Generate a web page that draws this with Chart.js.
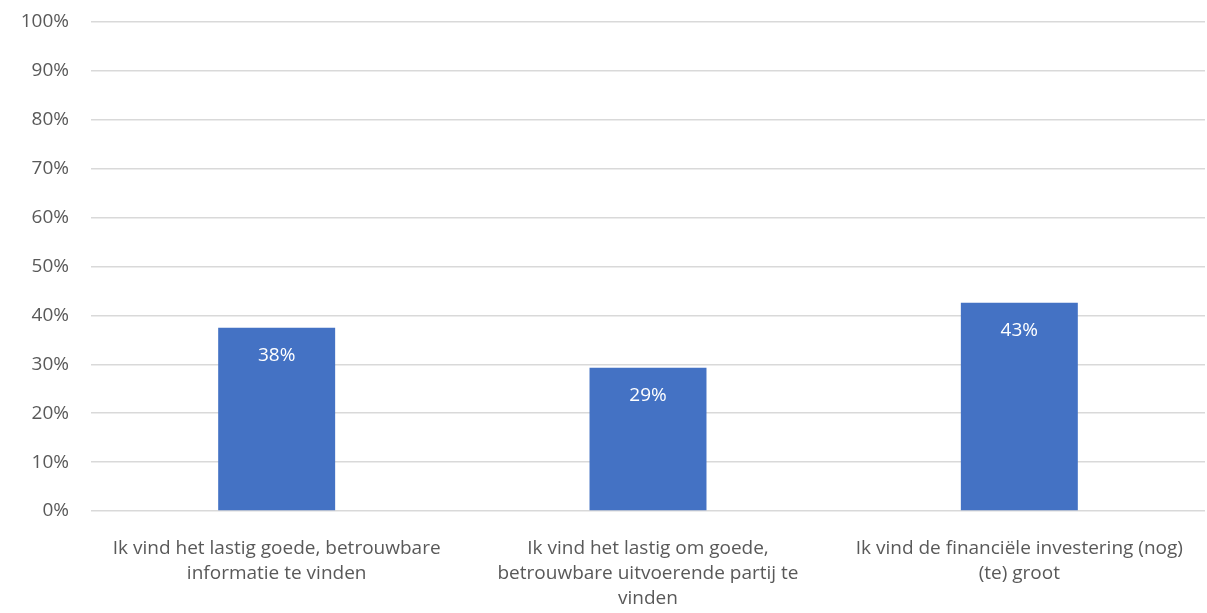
<!DOCTYPE html>
<html>
<head>
<meta charset="utf-8">
<script src="https://cdn.jsdelivr.net/npm/chart.js"></script>
<style>
  html, body { margin: 0; padding: 0; background: #fff; }
  #wrap { width: 1207px; height: 613px; }
</style>
</head>
<body>
<div id="wrap"><canvas id="myChart" width="1207" height="613"></canvas></div>
<script>
// Categories (wrapped as in the original)
var categories = [
  ['Ik vind het lastig goede, betrouwbare', 'informatie te vinden'],
  ['Ik vind het lastig om goede,', 'betrouwbare uitvoerende partij te', 'vinden'],
  ['Ik vind de financiële investering (nog)', '(te) groot']
];
// Share of respondents (%)
var values = [37.5, 29.3, 42.6];
var yTicks = [0, 10, 20, 30, 40, 50, 60, 70, 80, 90, 100];

var fontFamily = '"Open Sans", Lato, "Liberation Sans", sans-serif';

// Value labels inside the top of each bar
var barLabels = {
  id: 'barLabels',
  afterDatasetsDraw: function(chart) {
    var ctx = chart.ctx;
    var meta = chart.getDatasetMeta(0);
    ctx.save();
    ctx.fillStyle = '#ffffff';
    ctx.font = '19px ' + fontFamily;
    ctx.textAlign = 'center';
    ctx.textBaseline = 'middle';
    meta.data.forEach(function(bar, i) {
      ctx.fillText(Math.round(values[i]) + '%', bar.x, bar.y + 28);
    });
    ctx.restore();
  }
};

var ctx = document.getElementById('myChart').getContext('2d');
var myChart = new Chart(ctx, {
  type: 'bar',
  data: {
    labels: categories,
    datasets: [{
      data: values,
      backgroundColor: '#4472C4',
      borderWidth: 0,
      categoryPercentage: 1,
      barPercentage: 0.315
    }]
  },
  options: {
    responsive: false,
    animation: false,
    layout: { padding: { top: 22, right: 2, left: 0, bottom: 0 } },
    plugins: {
      legend: { display: false },
      tooltip: { enabled: false }
    },
    scales: {
      x: {
        grid: { display: false },
        border: { display: false },
        ticks: {
          color: '#595959',
          font: { family: fontFamily, size: 19, lineHeight: 1.32 },
          padding: 17,
          maxRotation: 0,
          autoSkip: false
        },
        afterFit: function(scale) { scale.height = 102; }
      },
      y: {
        min: 0,
        max: 100,
        afterBuildTicks: function(scale) {
          scale.ticks = yTicks.map(function(v) { return { value: v }; });
        },
        grid: { color: '#d9d9d9', lineWidth: 1.5, drawTicks: false },
        border: { display: false },
        ticks: {
          color: '#595959',
          font: { family: fontFamily, size: 19 },
          padding: 22,
          callback: function(v) { return v + '%'; }
        },
        afterFit: function(scale) {
          scale.width = 91;
          scale.paddingTop = 0;
          scale.paddingBottom = 0;
        }
      }
    }
  },
  plugins: [barLabels]
});
</script>
</body>
</html>
